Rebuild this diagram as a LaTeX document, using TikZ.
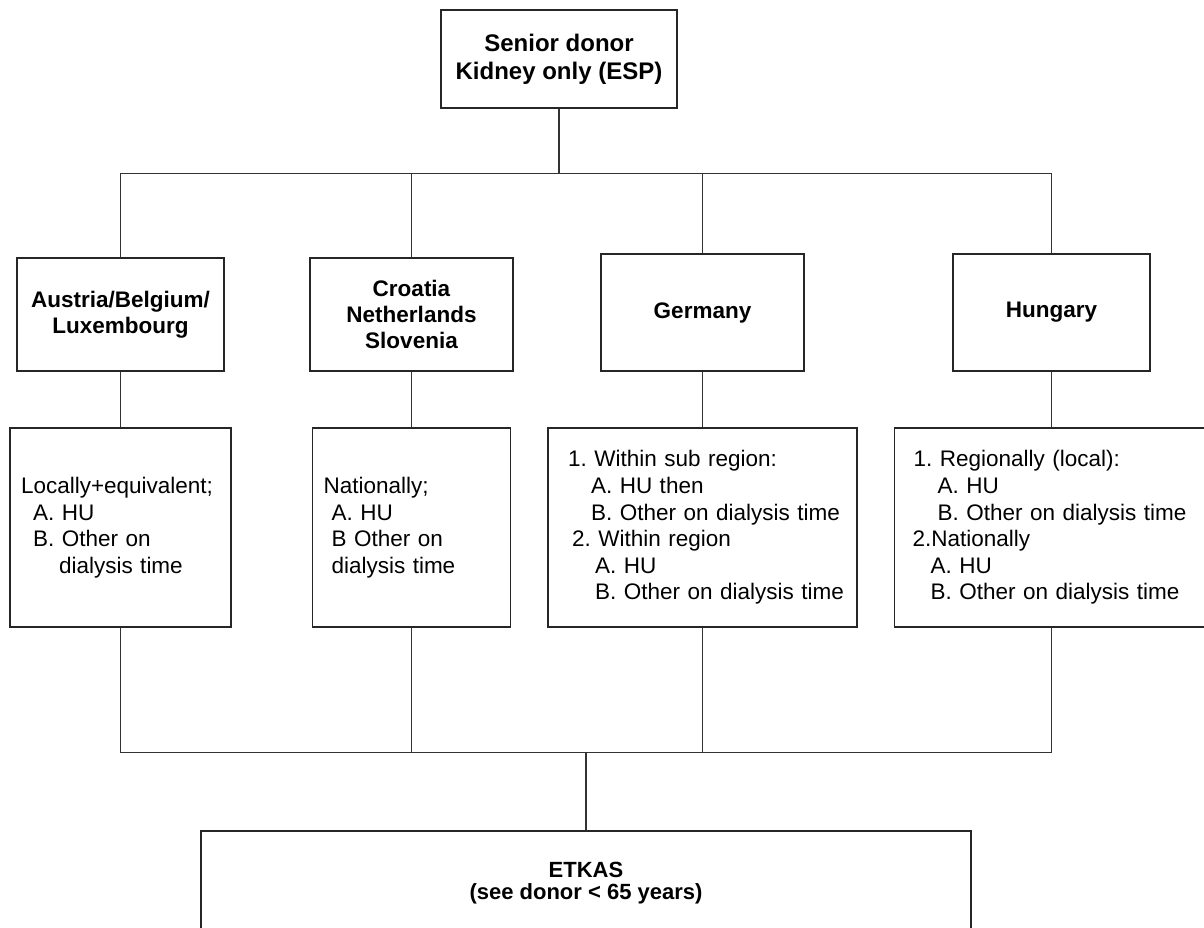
\documentclass[tikz,border=0pt]{standalone}
\usepackage{fontspec}
\setmainfont{Liberation Sans}
\frenchspacing

\begin{document}
\begin{tikzpicture}[-,thick,x=1pt,y=1pt,node distance=213pt,
    top node/.style={draw=black!85,line width=1.1pt,align=center,inner sep=0pt,minimum width=236pt,minimum height=98pt,font=\bfseries\fontsize{24}{28}\selectfont},
    country node/.style={draw=black!85,line width=1.1pt,align=center,inner sep=0pt,minimum height=113pt,font=\bfseries\fontsize{22.5}{26}\selectfont},
    rule node/.style={draw=black!85,line width=1.1pt,align=left,inner xsep=11pt,inner ysep=0pt,minimum height=199pt,font=\fontsize{22.5}{26.6}\selectfont},
    final node/.style={draw=black!85,line width=1.1pt,minimum width=770pt,minimum height=140pt},
    final text/.style={align=center,inner sep=0pt,font=\bfseries\fontsize{22}{22}\selectfont},
    link/.style={draw=black!80,line width=1.1pt}]

            \useasboundingbox (0,0) rectangle (1204,-927);
            \clip (0,0) rectangle (1204,-927);

            \node[top node] (top) at (559,-59) {Senior donor\\Kidney only (ESP)};

            \node[country node, minimum width=207pt] (aut) [below of = top, xshift=-438.5, yshift=-42.5] {Austria/Belgium/\\Luxembourg};
            \node[country node, minimum width=203pt] (cro) [right of = aut, xshift=78] {Croatia\\Netherlands\\Slovenia};
            \node[country node, minimum width=203pt, minimum height=117pt] (ger) [right of = cro, xshift=78, yshift=2] {Germany};
            \node[country node, minimum width=197pt, minimum height=117pt] (hun) [right of = ger, xshift=136] {Hungary};

            \node[rule node, text width=199pt] (aut2) [below of = aut] {Locally+equivalent;\\\hspace*{12pt}A. HU\\\hspace*{12pt}B. Other on\\\hspace*{38pt}dialysis time};
            \node[rule node, text width=176pt] (cro2) [below of = cro] {Nationally;\\\hspace*{8pt}A. HU\\\hspace*{8pt}B Other on\\\hspace*{8pt}dialysis time};
            \node[rule node, text width=287pt] (ger2) [below of = ger, yshift=-2] {\hspace*{9pt}1. Within sub region:\\\hspace*{32pt}A. HU then\\\hspace*{32pt}B. Other on dialysis time\\\hspace*{13pt}2. Within region\\\hspace*{36pt}A. HU\\\hspace*{36pt}B. Other on dialysis time};
            \node[rule node, text width=292pt] (hun2) [below of = hun, yshift=-2] {\hspace*{8pt}1. Regionally (local):\\\hspace*{32pt}A. HU\\\hspace*{32pt}B. Other on dialysis time\\\hspace*{7pt}2.Nationally\\\hspace*{25pt}A. HU\\\hspace*{25pt}B. Other on dialysis time};

            \node[final node] (etkas) [below of = cro2, xshift=174.5, yshift=-160.5] {};
            \node[final text] (etkastxt) [above of = etkas, node distance=17.6pt] {ETKAS\\(see donor < 65 years)};

            \draw[link, line width=2pt] (top.south) -- ++(0,-65) coordinate (fork);
            \draw[link] (aut.north) |- (fork) -| (hun.north);
            \draw[link] (cro.north) -- (cro.north |- fork);
            \draw[link] (ger.north) -- (ger.north |- fork);

            \draw[link] (aut) -- (aut2);
            \draw[link] (cro) -- (cro2);
            \draw[link] (ger) -- (ger2);
            \draw[link] (hun) -- (hun2);

            \draw[link, line width=2pt] (etkas.north) -- ++(0,78) coordinate (join);
            \draw[link] (aut2.south) |- (join) -| (hun2.south);
            \draw[link] (cro2.south) -- (cro2.south |- join);
            \draw[link] (ger2.south) -- (ger2.south |- join);
        \end{tikzpicture}
\end{document}
